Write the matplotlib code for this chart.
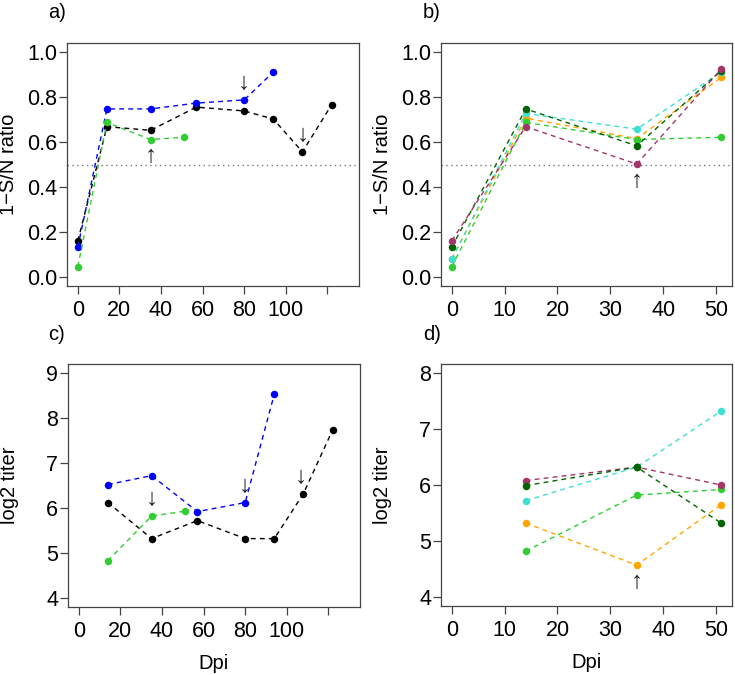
import matplotlib
matplotlib.use("Agg")
import matplotlib.pyplot as plt

plt.rcParams['font.family'] = ['Liberation Sans', 'DejaVu Sans']
plt.rcParams['font.size'] = 14.5

# colours (R names)
c_black = 'black'
c_blue = '#0000FF'
c_lime = '#32CD32'
c_dkgreen = '#006400'
c_turq = '#40E0D0'
c_orange = '#FFA500'
c_maroon = '#A3356A'

# ---- panel a) 1-S/N ratio, long follow up
dpi_a_black = [0, 14, 35, 57, 80, 94, 108, 122]
sn_a_black = [0.16, 0.668, 0.652, 0.755, 0.738, 0.702, 0.556, 0.765]
dpi_a_blue = [0, 14, 35, 57, 80, 94]
sn_a_blue = [0.133, 0.747, 0.747, 0.773, 0.787, 0.911]
dpi_a_lime = [0, 14, 35, 51]
sn_a_lime = [0.046, 0.687, 0.611, 0.621]

# ---- panel b) 1-S/N ratio, short follow up
dpi_b = [0, 14, 35, 51]
sn_b_orange = [0.08, 0.706, 0.615, 0.887]
sn_b_turq = [0.08, 0.727, 0.657, 0.911]
sn_b_lime = [0.046, 0.687, 0.611, 0.621]
sn_b_maroon = [0.161, 0.668, 0.502, 0.924]
sn_b_dkgreen = [0.133, 0.747, 0.583, 0.917]

# ---- panel c) log2 titer, long follow up
dpi_c_blue = [14, 35, 57, 80, 94]
t_c_blue = [6.52, 6.72, 5.92, 6.12, 8.53]
dpi_c_black = [14, 35, 57, 80, 94, 108, 122]
t_c_black = [6.12, 5.32, 5.72, 5.32, 5.32, 6.32, 7.73]
dpi_c_lime = [14, 35, 51]
t_c_lime = [4.83, 5.82, 5.93]

# ---- panel d) log2 titer, short follow up
dpi_d = [14, 35, 51]
t_d_orange = [5.32, 4.57, 5.65]
t_d_turq = [5.72, 6.32, 7.32]
t_d_lime = [4.82, 5.82, 5.92]
t_d_maroon = [6.08, 6.32, 6.0]
t_d_dkgreen = [5.99, 6.32, 5.32]

# arrows: (dpi, value, symbol)
arrows_a = [(80, 0.787, '↓'), (108, 0.556, '↓'), (35, 0.611, '↑')]
arrows_b = [(35, 0.502, '↑')]
arrows_c = [(35, 5.82, '↓'), (80, 6.12, '↓'), (107, 6.32, '↓')]
arrows_d = [(35, 4.57, '↑')]

ticks_long = [0, 20, 40, 60, 80, 100, 120]
ticklabels_long = ['0', '20', '40', '60', '80', '100', '']
ticks_short = [0, 10, 20, 30, 40, 50]

fig = plt.figure(figsize=(7.35, 6.75), dpi=100)
W, H = 735, 675


def add_ax(left, top, right, bottom):
    return fig.add_axes([left / W, 1 - bottom / H, (right - left) / W, (bottom - top) / H])


ax_a = add_ax(67, 43, 359, 286)
ax_b = add_ax(441, 43, 732, 286)
ax_c = add_ax(68, 364, 360, 607)
ax_d = add_ax(441, 364, 732, 606)


def series(ax, x, y, col):
    ax.plot(x, y, color=col, lw=1, dashes=(3.5, 3), marker='o', ms=5.4,
            markeredgewidth=0, zorder=3)


def arrows(ax, arr):
    for x, y, s in arr:
        off = 12 if s == '↓' else -12
        ax.annotate(s, (x, y), xytext=(0, off), textcoords='offset points',
                    ha='center', va='center', fontsize=17.5, color='#222222')


def style(ax):
    for sp in ax.spines.values():
        sp.set_color('#444444')
        sp.set_linewidth(0.9)
    ax.tick_params(direction='out', length=5.5, width=0.9, color='#444444',
                   labelsize=15.5)
    ax.tick_params(axis='y', pad=1.5)
    ax.tick_params(axis='x', pad=4.5)


# a)
series(ax_a, dpi_a_black, sn_a_black, c_black)
series(ax_a, dpi_a_blue, sn_a_blue, c_blue)
series(ax_a, dpi_a_lime, sn_a_lime, c_lime)
arrows(ax_a, arrows_a)
ax_a.axhline(0.5, color='#777777', lw=1, dashes=(1, 2.5), zorder=1)
ax_a.set_xlim(-5.2, 135.2)
ax_a.set_xticks(ticks_long)
ax_a.set_xticklabels(ticklabels_long)
ax_a.set_ylim(-0.04, 1.04)
ax_a.set_yticks([0, 0.2, 0.4, 0.6, 0.8, 1.0])
ax_a.set_yticklabels(['0.0', '0.2', '0.4', '0.6', '0.8', '1.0'])
ax_a.set_ylabel('1−S/N ratio')

# b)
series(ax_b, dpi_b, sn_b_orange, c_orange)
series(ax_b, dpi_b, sn_b_turq, c_turq)
series(ax_b, dpi_b, sn_b_lime, c_lime)
series(ax_b, dpi_b, sn_b_dkgreen, c_dkgreen)
series(ax_b, dpi_b, sn_b_maroon, c_maroon)
arrows(ax_b, arrows_b)
ax_b.axhline(0.5, color='#777777', lw=1, dashes=(1, 2.5), zorder=1)
ax_b.set_xlim(-2.04, 53.04)
ax_b.set_xticks(ticks_short)
ax_b.set_ylim(-0.04, 1.04)
ax_b.set_yticks([0, 0.2, 0.4, 0.6, 0.8, 1.0])
ax_b.set_yticklabels(['0.0', '0.2', '0.4', '0.6', '0.8', '1.0'])
ax_b.set_ylabel('1−S/N ratio')

# c)
series(ax_c, dpi_c_blue, t_c_blue, c_blue)
series(ax_c, dpi_c_black, t_c_black, c_black)
series(ax_c, dpi_c_lime, t_c_lime, c_lime)
arrows(ax_c, arrows_c)
ax_c.set_xlim(-5.2, 135.2)
ax_c.set_xticks(ticks_long)
ax_c.set_xticklabels(ticklabels_long)
ax_c.set_ylim(3.8, 9.2)
ax_c.set_yticks([4, 5, 6, 7, 8, 9])
ax_c.set_ylabel('log2 titer')
ax_c.set_xlabel('Dpi')

# d)
series(ax_d, dpi_d, t_d_orange, c_orange)
series(ax_d, dpi_d, t_d_turq, c_turq)
series(ax_d, dpi_d, t_d_lime, c_lime)
series(ax_d, dpi_d, t_d_maroon, c_maroon)
series(ax_d, dpi_d, t_d_dkgreen, c_dkgreen)
arrows(ax_d, arrows_d)
ax_d.set_xlim(-2.04, 53.04)
ax_d.set_xticks(ticks_short)
ax_d.set_ylim(3.84, 8.16)
ax_d.set_yticks([4, 5, 6, 7, 8])
ax_d.set_ylabel('log2 titer')
ax_d.set_xlabel('Dpi')

for ax in (ax_a, ax_b, ax_c, ax_d):
    style(ax)
    ax.yaxis.set_label_coords(-0.168, 0.5)
for ax in (ax_c, ax_d):
    ax.xaxis.set_label_coords(0.5, -0.195)

# panel letters
fig.text(48 / W, 1 - 13 / H, 'a)', ha='left', va='center', fontsize=14.5)
fig.text(423 / W, 1 - 13 / H, 'b)', ha='left', va='center', fontsize=14.5)
fig.text(48 / W, 1 - 335 / H, 'c)', ha='left', va='center', fontsize=14.5)
fig.text(423 / W, 1 - 335 / H, 'd)', ha='left', va='center', fontsize=14.5)

fig.savefig('out.png', dpi=100)
